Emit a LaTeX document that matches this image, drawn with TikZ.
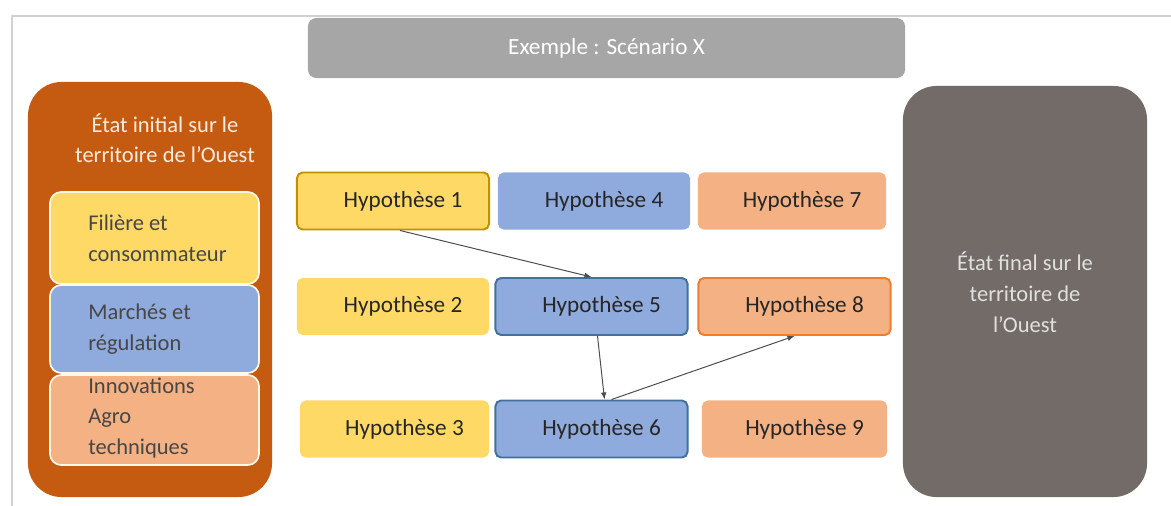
\documentclass[tikz,border=0pt]{standalone}
\usepackage{fontspec}
\setmainfont{Carlito}
\usepackage{tikz}
\usetikzlibrary{positioning,arrows.meta,calc}
\definecolor{initc}{RGB}{197,90,17}
\definecolor{finalc}{RGB}{114,107,103}
\definecolor{titlec}{RGB}{166,166,166}
\definecolor{yelc}{RGB}{255,217,102}
\definecolor{bluc}{RGB}{143,170,220}
\definecolor{orgc}{RGB}{244,177,131}
\definecolor{yelline}{RGB}{191,144,0}
\definecolor{bluline}{RGB}{65,113,156}
\definecolor{orgline}{RGB}{237,125,49}
\definecolor{txtc}{RGB}{38,38,38}
\tikzset{
  hyp/.style={rounded corners=4pt, minimum width=4.8cm, minimum height=1.425cm,
              inner sep=0pt, font=\fontsize{16.5}{19}\selectfont, text=txtc,
              execute at begin node={\hspace*{0.5cm}}},
  yelhyp/.style={hyp, fill=yelc},
  bluhyp/.style={hyp, fill=bluc},
  orghyp/.style={hyp, fill=orgc},
  hl/.style={line width=1.4pt},
  catbox/.style={rounded corners=8pt, minimum width=5.225cm, draw=white!85!yelc,
                 line width=1.2pt, inner sep=0pt},
  cattxt/.style={anchor=west, align=left, inner sep=0pt, text=txtc!85!white,
                 font=\fontsize{16}{22}\selectfont},
  bigbox/.style={rounded corners=24pt, minimum width=6.1cm, inner sep=0pt},
  bigtxt/.style={align=center, inner sep=0pt, font=\fontsize{16}{21}\selectfont},
  link/.style={-{Latex[length=5pt,width=4pt]}, line width=0.7pt, black!70}
}
\begin{document}
\begin{tikzpicture}[x=0.025cm, y=-0.025cm]
\useasboundingbox (0,0) rectangle (1171,506);
\draw[black!18, line width=1pt] (12,506) -- (12,16) -- (1171,16);
\node (titre) [rounded corners=6pt, fill=titlec, minimum width=14.925cm, minimum height=1.5cm,
  text=white, font=\fontsize{16.5}{19}\selectfont] at (606.5,48) {Exemple : Scénario X};
\node (init) [bigbox, fill=initc, minimum height=10.375cm] at (150,289.5) {};
\node (initlbl) [bigtxt, text=orgc!25!white] at (165,138) {État initial sur le\\territoire de l’Ouest};
\node (fil) [catbox, fill=yelc, minimum height=2.3cm] at (154.5,238) {};
\node (mar) [catbox, fill=bluc, minimum height=2.2cm] at (154.5,329) {};
\node (inn) [catbox, fill=orgc, minimum height=2.25cm] at (154.5,420) {};
\node (filt) [cattxt] at (88,238) {Filière et\\consommateur};
\node (mart) [cattxt] at (88,329) {Marchés et\\régulation};
\node (innt) [cattxt] at (88,418) {Innovations\\Agro\\techniques};
\node (h1) [yelhyp, draw=yelline, hl] at (393,201) {Hypothèse 1};
\node (h2) [yelhyp] at (393,306.5) {Hypothèse 2};
\node (h3) [yelhyp, minimum width=4.725cm] at (394.5,429) {Hypothèse 3};
\node (h4) [bluhyp] at (594,201) {Hypothèse 4};
\node (h5) [bluhyp, draw=bluline, hl] at (591.5,306.5) {Hypothèse 5};
\node (h6) [bluhyp, draw=bluline, hl] at (591.5,429) {Hypothèse 6};
\node (h7) [orghyp, minimum width=4.7cm] at (792,201) {Hypothèse 7};
\node (h8) [orghyp, draw=orgline, hl] at (794.5,306.5) {Hypothèse 8};
\node (h9) [orghyp, minimum width=4.625cm] at (794.5,429) {Hypothèse 9};
\node (final) [bigbox, fill=finalc, minimum height=10.275cm] at (1025,291.5) {};
\node (finallbl) [bigtxt, text=black!12, font=\fontsize{16}{22}\selectfont] at (1025,292)
  {État final sur le\\territoire de\\l’Ouest};
\draw[link] ($(h1.south)+(7,0)$) -- (h5.north);
\draw[link] ($(h5.south)+(6,0)$) -- ($(h6.north)+(13,0)$);
\draw[link] ($(h6.north)+(20,0)$) -- (h8.south);
\end{tikzpicture}
\end{document}
